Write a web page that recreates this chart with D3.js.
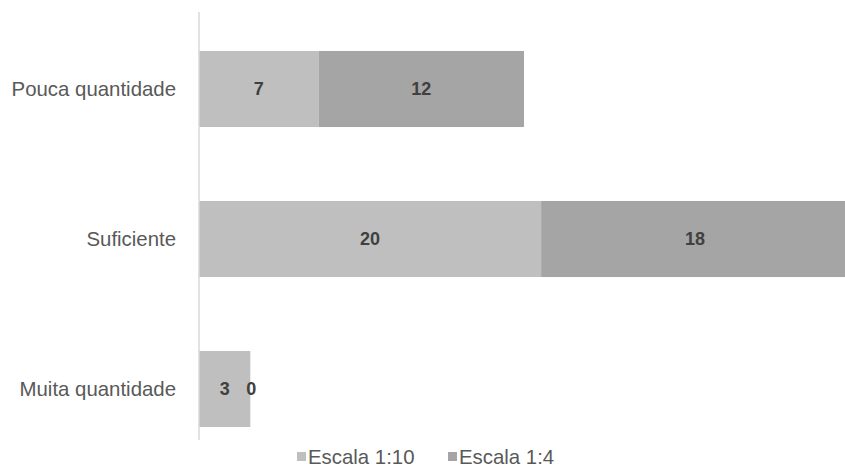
<!DOCTYPE html>
<html><head><meta charset="utf-8">
<script src="https://cdn.jsdelivr.net/npm/d3@7"></script>
<style>body{margin:0;background:#fff}svg{display:block}</style>
</head><body>
<script>
const categories = ["Pouca quantidade", "Suficiente", "Muita quantidade"];
const seriesNames = ["Escala 1:10", "Escala 1:4"];
const escala110 = [7, 20, 3];
const escala14 = [12, 18, 0];
const colors = ["#bfbfbf", "#a5a5a5"];

const W = 845, H = 468;
const font = "'Liberation Sans',Arial,sans-serif";
const svg = d3.select("body").append("svg").attr("width", W).attr("height", H);

const x = d3.scaleLinear().domain([0, 38]).range([199, 849]);
const y = d3.scaleBand().domain(categories).range([14, 464]).paddingInner(0.493).paddingOuter(0.2465);

const rows = categories.map((c, i) => ({cat: c, vals: [escala110[i], escala14[i]]}));
const stack = d3.stack().keys([0, 1]).value((d, k) => d.vals[k])(rows);

stack.forEach((layer, k) => {
  svg.append("g").selectAll("rect").data(layer).join("rect")
    .attr("x", d => x(d[0])).attr("y", d => y(d.data.cat))
    .attr("width", d => x(d[1]) - x(d[0])).attr("height", y.bandwidth())
    .attr("fill", colors[k]);
  svg.append("g").selectAll("text").data(layer).join("text")
    .attr("x", d => (x(d[0]) + x(d[1])) / 2 + (d[1] - d[0] === 0 ? 1 : 0))
    .attr("y", d => y(d.data.cat) + y.bandwidth() / 2)
    .attr("dy", "0.35em").attr("text-anchor", "middle")
    .attr("font-family", font).attr("font-size", 18).attr("font-weight", "bold")
    .attr("fill", "#404040").text(d => d[1] - d[0]);
});

svg.append("line").attr("x1", 199).attr("x2", 199).attr("y1", 12).attr("y2", 440)
  .attr("stroke", "#d9d9d9").attr("stroke-width", 1.5);

svg.append("g").selectAll("text").data(categories).join("text")
  .attr("x", 176).attr("y", d => y(d) + y.bandwidth() / 2).attr("dy", "0.35em")
  .attr("text-anchor", "end").attr("font-family", font).attr("font-size", 20.4)
  .attr("fill", "#595959").text(d => d);

const leg = svg.append("g");
const legX = [297, 448];
seriesNames.forEach((n, i) => {
  leg.append("rect").attr("x", legX[i]).attr("y", 452).attr("width", 9).attr("height", 9).attr("fill", colors[i]);
  leg.append("text").attr("x", legX[i] + 11).attr("y", 457).attr("dy", "0.35em")
    .attr("font-family", font).attr("font-size", 20.4)
    .attr("fill", "#595959").text(n);
});
</script>
</body></html>
